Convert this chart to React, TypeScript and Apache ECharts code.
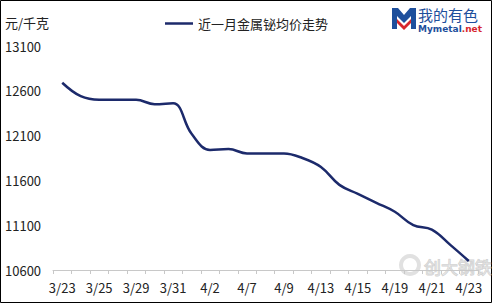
import React, { useEffect, useRef } from "react";
import * as echarts from "echarts";

const categories = ["3/23","3/24","3/25","3/26","3/29","3/30","3/31","4/1","4/2","4/6","4/7","4/8","4/9","4/12","4/13","4/14","4/15","4/16","4/19","4/20","4/21","4/22","4/23"];
const prices = [12690, 12540, 12500, 12500, 12500, 12450, 12460, 12120, 11940, 11950, 11900, 11900, 11900, 11850, 11750, 11550, 11450, 11350, 11250, 11100, 11050, 10880, 10700];
const seriesName = "近一月金属铋均价走势";
const unitLabel = "元/千克";

const FONT = "'Microsoft YaHei', 'Noto Sans CJK SC', sans-serif";

export default function App() {
  const ref = useRef<HTMLDivElement>(null);
  useEffect(() => {
    if (!ref.current) return;
    const chart = echarts.init(ref.current, undefined, { renderer: "svg" });
    chart.setOption({
      animation: false,
      backgroundColor: "#fff",
      textStyle: { fontFamily: FONT },
      grid: { left: 53, right: 15, top: 46, bottom: 34, containLabel: false },
      legend: {
        left: 160,
        top: 12,
        icon: "rect",
        itemWidth: 28,
        itemHeight: 2.5,
        itemGap: 10,
        textStyle: { fontSize: 13, color: "#222", fontFamily: FONT },
        data: [seriesName],
      },
      xAxis: {
        type: "category",
        data: categories,
        boundaryGap: true,
        axisLine: { lineStyle: { color: "#c8c8c8", width: 1 } },
        axisTick: { show: true, interval: 0, length: 4, lineStyle: { color: "#c8c8c8" } },
        axisLabel: { interval: 1, margin: 11, fontSize: 13, color: "#222", fontFamily: FONT },
        splitLine: { show: false },
      },
      yAxis: {
        type: "value",
        min: 10600,
        max: 13100,
        interval: 500,
        axisLine: { show: false },
        axisTick: { show: false },
        splitLine: { show: false },
        axisLabel: {
          align: "left",
          margin: 48,
          fontSize: 13,
          color: "#222",
          fontFamily: FONT,
          formatter: (v: number) => String(v),
        },
      },
      series: [
        {
          name: seriesName,
          type: "line",
          data: prices,
          smooth: 0.4,
          symbol: "none",
          lineStyle: { color: "#1c2a6b", width: 2.5 },
          itemStyle: { color: "#1c2a6b" },
        },
      ],
      graphic: [
        {
          type: "rect",
          shape: { x: 0.5, y: 0.5, width: 491, height: 302 },
          style: { fill: "none", stroke: "#000", lineWidth: 1 },
          silent: true,
        },
        {
          type: "text",
          x: 5,
          y: 22,
          style: { text: unitLabel, fontSize: 13, fill: "#222", fontFamily: FONT, verticalAlign: "middle" },
        },
        {
          type: "polygon",
          shape: { points: [[392, 8], [398, 8], [404, 15], [410, 8], [416, 8], [416, 29], [411, 29], [411, 16], [404, 23], [397, 16], [397, 29], [392, 29]] },
          style: { fill: "#1e4f9c" },
        },
        {
          type: "polygon",
          shape: { points: [[397, 19], [404, 26], [411, 19], [411, 23], [404, 30], [397, 23]] },
          style: { fill: "#d7262c" },
        },
        {
          type: "text",
          x: 418,
          y: 14,
          style: { text: "我的有色", fontSize: 15, fill: "#1e4f9c", fontFamily: FONT, verticalAlign: "middle" },
        },
        {
          type: "text",
          x: 418,
          y: 28.5,
          style: {
            text: "{a|Mymetal}{b|.net}",
            verticalAlign: "middle",
            rich: {
              a: { fontSize: 9, fontWeight: "bold", fill: "#1e4f9c", fontFamily: "'DejaVu Sans', sans-serif" },
              b: { fontSize: 9, fontWeight: "bold", fill: "#d7262c", fontFamily: "'DejaVu Sans', sans-serif" },
            },
          },
        },
        {
          type: "ring",
          shape: { cx: 410, cy: 265, r: 11, r0: 7 },
          style: { fill: "rgba(170,170,170,0.35)" },
          silent: true,
        },
        {
          type: "text",
          x: 424,
          y: 266,
          style: {
            text: "创大钢铁",
            fontSize: 17,
            fill: "rgba(230,230,230,0.5)",
            stroke: "rgba(150,150,150,0.45)",
            lineWidth: 1,
            fontFamily: FONT,
            verticalAlign: "middle",
          },
          silent: true,
        },
      ],
    });
    return () => chart.dispose();
  }, []);
  return <div ref={ref} style={{ position: "absolute", left: 0, top: 0, width: 493, height: 304 }} />;
}
